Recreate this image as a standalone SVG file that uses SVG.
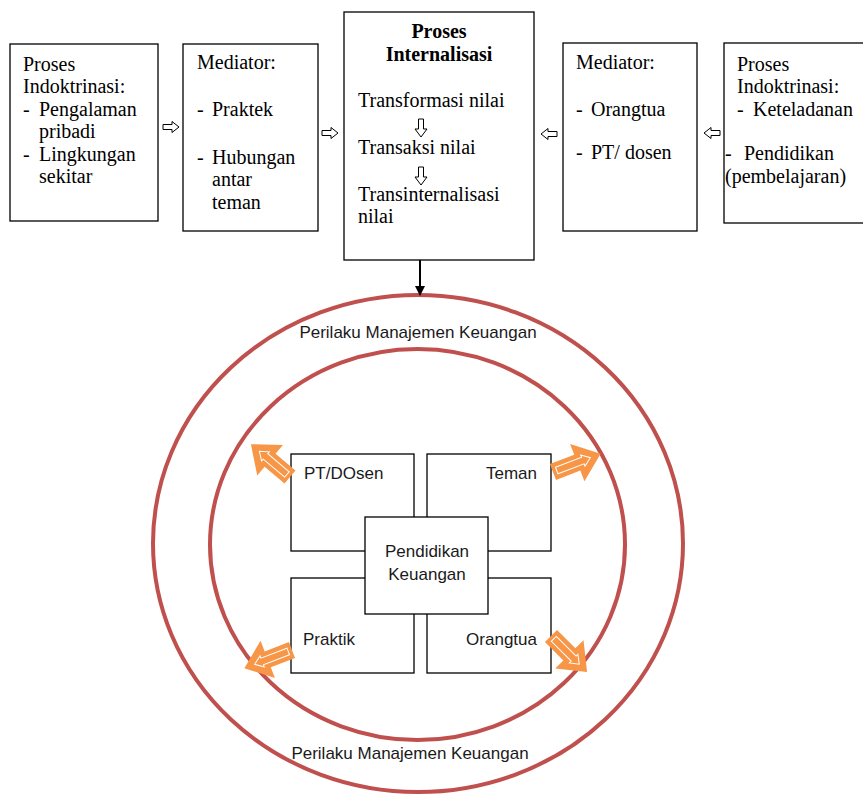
<svg xmlns="http://www.w3.org/2000/svg" xmlns:xlink="http://www.w3.org/1999/xlink" width="863" height="795" viewBox="0 0 863 795">
<style>
.box{fill:#fff;stroke:#000;stroke-width:1.3}
.ser{font-family:"Liberation Serif","Times New Roman",serif;font-size:20px;fill:#000}
.b{font-weight:bold}
.sans{font-family:"Liberation Sans",Arial,sans-serif;font-size:17px;fill:#1a1a1a}
.ring{fill:none;stroke:#c0504d;stroke-width:4}
.hol{fill:#fff;stroke:#000;stroke-width:1}
.orange{fill:#f79646}
.inner{fill:none;stroke:#fff;stroke-width:1}
</style>
<defs>
<path id="hr" d="M0,-2.5 L9,-2.5 L9,-5.5 L16,0 L9,5.5 L9,2.5 L0,2.5 Z"/>
<path id="hd" d="M-2.5,0 L-2.5,10 L-6,10 L0,18 L6,10 L2.5,10 L2.5,0 Z"/>
<g id="oa">
<path class="orange" d="M0,-8.5 L26,-8.5 L26,-20 L51,0 L26,20 L26,8.5 L0,8.5 Z"/>
<path class="inner" d="M4,-3.5 L32,-3.5 L32,-6 L40,0 L32,6 L32,3.5 L4,3.5 Z"/>
</g>
<marker id="ah" markerWidth="10" markerHeight="10" refX="9" refY="5" orient="auto" markerUnits="userSpaceOnUse">
<path d="M0,0 L10,5 L0,10 Z" fill="#000"/>
</marker>
</defs>

<g id="rings">
<ellipse class="ring" cx="418" cy="543.5" rx="265" ry="248.5"/>
<ellipse class="ring" cx="417.5" cy="544.5" rx="207.5" ry="195.5"/>
</g>

<g id="n1">
<rect class="box" x="10" y="44" width="148" height="177"/>
<text class="ser" x="23" y="71">Proses</text>
<text class="ser" x="23" y="93">Indoktrinasi:</text>
<text class="ser" x="23" y="116">-</text><text class="ser" x="39" y="116">Pengalaman</text>
<text class="ser" x="39" y="138">pribadi</text>
<text class="ser" x="23" y="161">-</text><text class="ser" x="39" y="161">Lingkungan</text>
<text class="ser" x="39" y="183">sekitar</text>
</g>

<g id="n2">
<rect class="box" x="183" y="44" width="135" height="187"/>
<text class="ser" x="197" y="69">Mediator:</text>
<text class="ser" x="197" y="116">-</text><text class="ser" x="212" y="116">Praktek</text>
<text class="ser" x="197" y="164">-</text><text class="ser" x="212" y="164">Hubungan</text>
<text class="ser" x="212" y="186">antar</text>
<text class="ser" x="212" y="209">teman</text>
</g>

<g id="n3">
<rect class="box" x="344" y="12" width="190" height="248"/>
<text class="ser b" x="439" y="38" text-anchor="middle">Proses</text>
<text class="ser b" x="439" y="61" text-anchor="middle">Internalisasi</text>
<text class="ser" x="358" y="107">Transformasi nilai</text>
<use xlink:href="#hd" class="hol" x="421" y="119"/>
<text class="ser" x="358" y="154">Transaksi nilai</text>
<use xlink:href="#hd" class="hol" x="421" y="167"/>
<text class="ser" x="358" y="201">Transinternalisasi</text>
<text class="ser" x="358" y="223">nilai</text>
</g>

<g id="n4">
<rect class="box" x="563" y="43" width="134" height="188"/>
<text class="ser" x="576" y="69">Mediator:</text>
<text class="ser" x="576" y="116">-</text><text class="ser" x="591" y="116">Orangtua</text>
<text class="ser" x="576" y="159">-</text><text class="ser" x="591" y="159">PT/ dosen</text>
</g>

<g id="n5">
<rect class="box" x="724" y="43" width="145" height="180"/>
<text class="ser" x="737" y="71">Proses</text>
<text class="ser" x="737" y="93">Indoktrinasi:</text>
<text class="ser" x="737" y="116">-</text><text class="ser" x="753" y="116">Keteladanan</text>
<text class="ser" x="725" y="160">-</text><text class="ser" x="744" y="160">Pendidikan</text>
<text class="ser" x="725" y="183">(pembelajaran)</text>
</g>

<g id="connectors">
<use xlink:href="#hr" class="hol" transform="translate(163,127)"/>
<use xlink:href="#hr" class="hol" transform="translate(322,133)"/>
<use xlink:href="#hr" class="hol" transform="translate(557,134) rotate(180)"/>
<use xlink:href="#hr" class="hol" transform="translate(720,133) rotate(180)"/>
<line x1="420" y1="260" x2="420" y2="295" stroke="#000" stroke-width="2" marker-end="url(#ah)"/>
</g>

<g id="labels">
<text class="sans" x="418" y="338" text-anchor="middle">Perilaku Manajemen Keuangan</text>
<text class="sans" x="410" y="759" text-anchor="middle">Perilaku Manajemen Keuangan</text>
</g>

<g id="pt">
<rect class="box" x="291" y="454" width="123" height="97"/>
<text class="sans" x="304" y="479">PT/DOsen</text>
</g>
<g id="teman">
<rect class="box" x="427" y="454" width="124" height="97"/>
<text class="sans" x="537" y="479" text-anchor="end">Teman</text>
</g>
<g id="praktik">
<rect class="box" x="291" y="578" width="123" height="95"/>
<text class="sans" x="303" y="645">Praktik</text>
</g>
<g id="orangtua">
<rect class="box" x="427" y="578" width="124" height="95"/>
<text class="sans" x="537" y="645" text-anchor="end">Orangtua</text>
</g>
<g id="pendidikan">
<rect class="box" x="365" y="517" width="123" height="97"/>
<text class="sans" x="427" y="557" text-anchor="middle">Pendidikan</text>
<text class="sans" x="427" y="580" text-anchor="middle">Keuangan</text>
</g>

<g id="orange-arrows">
<use xlink:href="#oa" transform="translate(290,477) rotate(-140)"/>
<use xlink:href="#oa" transform="translate(553,472) rotate(-21)"/>
<use xlink:href="#oa" transform="translate(292,650) rotate(159)"/>
<use xlink:href="#oa" transform="translate(551,636) rotate(45)"/>
</g>
</svg>
